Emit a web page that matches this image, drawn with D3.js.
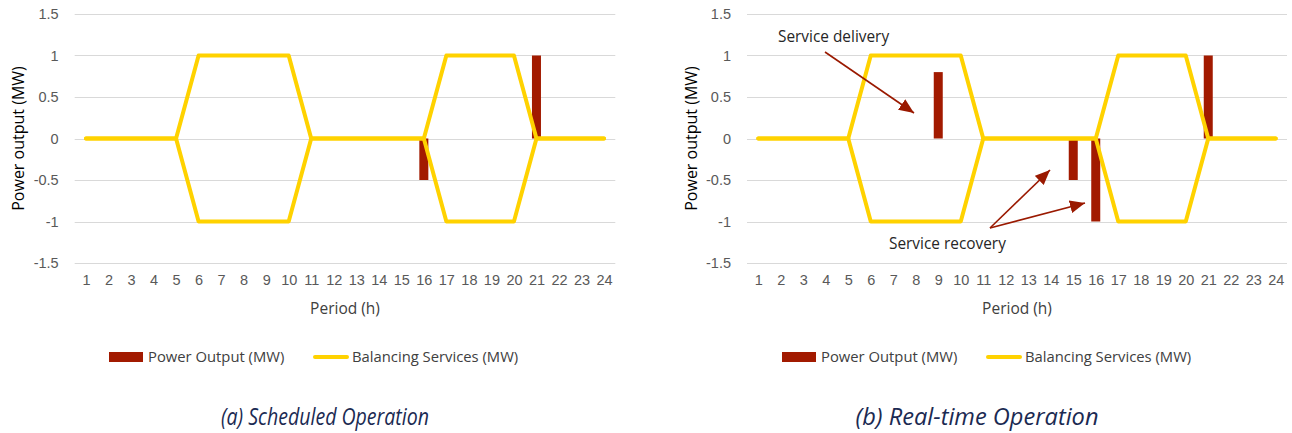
<!DOCTYPE html>
<html>
<head>
<meta charset="utf-8">
<script src="https://cdn.jsdelivr.net/npm/d3@7"></script>
<style>
  html, body { margin: 0; padding: 0; background: #fff; }
  svg { display: block; font-family: "Open Sans", "Noto Sans", sans-serif; }
</style>
</head>
<body>
<svg id="chart" width="1292" height="433"></svg>
<script>
// Hourly periods of the day
const periods = d3.range(1, 25);

// Power output of the unit (MW), scheduled vs. real-time
const scheduledOutput = [0,0,0,0,0,0,0,0,0,0,0,0,0,0,0,-0.5,0,0,0,0,1,0,0,0];
const realtimeOutput  = [0,0,0,0,0,0,0,0,0.8,0,0,0,0,0,-0.5,-1,0,0,0,0,1,0,0,0];

// Balancing service envelope (MW): upward and downward capacity
const balancingUp   = [0,0,0,0,0,1,1,1,1,1,0,0,0,0,0,0,1,1,1,1,0,0,0,0];
const balancingDown = [0,0,0,0,0,-1,-1,-1,-1,-1,0,0,0,0,0,0,-1,-1,-1,-1,0,0,0,0];

// Value axis ticks
const yTicks = [-1.5, -1, -0.5, 0, 0.5, 1, 1.5];

// Panel captions
const captions = ["(a) Scheduled Operation", "(b) Real-time Operation"];

const BAR = "#A21A00";
const LINE = "#FFD200";
const GRID = "#D9D9D9";
const TICK = "#595959";

const svg = d3.select("#chart");

const defs = svg.append("defs");
defs.append("marker")
  .attr("id", "arrowHead")
  .attr("markerUnits", "userSpaceOnUse")
  .attr("viewBox", "0 0 14 12")
  .attr("refX", 14).attr("refY", 6)
  .attr("markerWidth", 15).attr("markerHeight", 13)
  .attr("orient", "auto")
  .append("path")
  .attr("d", "M0,0 L14,6 L0,12 Z")
  .attr("fill", "#9A1900");

function drawPanel(cfg) {
  const g = svg.append("g");
  const x = d3.scaleBand().domain(periods).range([cfg.x0, cfg.x1]).paddingInner(0.6).paddingOuter(0.3);
  const xc = d3.scalePoint().domain(periods).range([cfg.x0, cfg.x1]).padding(0.5);
  const y = d3.scaleLinear().domain([-1.5, 1.5]).range([263, 14]);

  // gridlines
  g.append("g").selectAll("line").data(yTicks).join("line")
    .attr("x1", cfg.x0).attr("x2", cfg.x1)
    .attr("y1", d => Math.round(y(d)) + 0.5).attr("y2", d => Math.round(y(d)) + 0.5)
    .attr("stroke", GRID).attr("stroke-width", 1);

  // value axis labels
  const yAxis = d3.axisLeft(y).tickValues(yTicks).tickSize(0).tickPadding(16)
    .tickFormat(d => String(d));
  const ya = g.append("g").attr("transform", `translate(${cfg.x0},0)`).call(yAxis);
  ya.select(".domain").remove();
  ya.selectAll("text").attr("fill", TICK).attr("font-size", 14.5).attr("font-family", null);

  // category axis labels
  const xAxis = d3.axisBottom(xc).tickSize(0).tickPadding(0);
  const xa = g.append("g").attr("transform", `translate(0,275)`).call(xAxis);
  xa.select(".domain").remove();
  xa.selectAll("text").attr("fill", TICK).attr("font-size", 14.5).attr("font-family", null);

  // axis titles
  g.append("text")
    .attr("transform", `translate(${cfg.x0 - 56},${y(0)}) rotate(-90)`)
    .attr("text-anchor", "middle").attr("dy", "0.35em")
    .attr("font-size", 16).attr("fill", "#000")
    .text("Power output (MW)");
  g.append("text")
    .attr("x", (cfg.x0 + cfg.x1) / 2).attr("y", 309).attr("dy", "0.35em")
    .attr("text-anchor", "middle").attr("font-size", 15.5).attr("fill", "#404040")
    .text("Period (h)");

  // power output bars
  g.append("g").selectAll("rect")
    .data(periods.map((p, i) => ({ p, v: cfg.output[i] })).filter(d => d.v !== 0))
    .join("rect")
    .attr("x", d => x(d.p))
    .attr("width", x.bandwidth())
    .attr("y", d => y(Math.max(0, d.v)))
    .attr("height", d => Math.abs(y(d.v) - y(0)))
    .attr("fill", BAR);

  // balancing service envelope
  const line = d3.line().x((d, i) => xc(periods[i])).y(d => y(d));
  [balancingUp, balancingDown].forEach(series => {
    g.append("path").datum(series)
      .attr("d", line)
      .attr("fill", "none").attr("stroke", LINE).attr("stroke-width", 4)
      .attr("stroke-linejoin", "round").attr("stroke-linecap", "round");
  });

  // legend
  const lg = g.append("g").attr("transform", `translate(${cfg.legendX},357)`);
  lg.append("rect").attr("x", 0).attr("y", -5).attr("width", 34).attr("height", 10).attr("fill", BAR);
  lg.append("text").attr("x", 39).attr("dy", "0.35em").attr("font-size", 14.8).attr("fill", "#404040")
    .text("Power Output (MW)");
  lg.append("line").attr("x1", 206).attr("x2", 238).attr("y1", 0).attr("y2", 0)
    .attr("stroke", LINE).attr("stroke-width", 4).attr("stroke-linecap", "round");
  lg.append("text").attr("x", 243).attr("dy", "0.35em").attr("font-size", 14.8).attr("fill", "#404040")
    .text("Balancing Services (MW)");

  // caption
  g.append("text")
    .attr("x", cfg.captionX).attr("y", 425)
    .attr("text-anchor", "middle").attr("font-size", 23).attr("font-style", "italic")
    .attr("textLength", cfg.captionLen).attr("lengthAdjust", "spacingAndGlyphs")
    .attr("fill", "#1B2A52")
    .text(cfg.caption);

  return { g, x, xc, y };
}

drawPanel({ x0: 74.7, x1: 615.3, output: scheduledOutput, legendX: 109, captionX: 325, captionLen: 208, caption: captions[0] });
const right = drawPanel({ x0: 747, x1: 1287, output: realtimeOutput, legendX: 782, captionX: 977, captionLen: 243, caption: captions[1] });

// annotations on the real-time panel
const ann = right.g.append("g");
ann.append("text").attr("x", 778).attr("y", 37).attr("dy", "0.35em")
  .attr("font-size", 15.4).attr("fill", "#262626").text("Service delivery");
ann.append("text").attr("x", 889).attr("y", 244).attr("dy", "0.35em")
  .attr("font-size", 15.4).attr("fill", "#262626").text("Service recovery");

const arrows = [
  [[825, 52], [914, 113]],
  [[990, 228], [1050, 170]],
  [[990, 228], [1085, 203]]
];
ann.selectAll("line.arrow").data(arrows).join("line")
  .attr("class", "arrow")
  .attr("x1", d => d[0][0]).attr("y1", d => d[0][1])
  .attr("x2", d => d[1][0]).attr("y2", d => d[1][1])
  .attr("stroke", "#9A1900").attr("stroke-width", 1.6)
  .attr("marker-end", "url(#arrowHead)");
</script>
</body>
</html>
